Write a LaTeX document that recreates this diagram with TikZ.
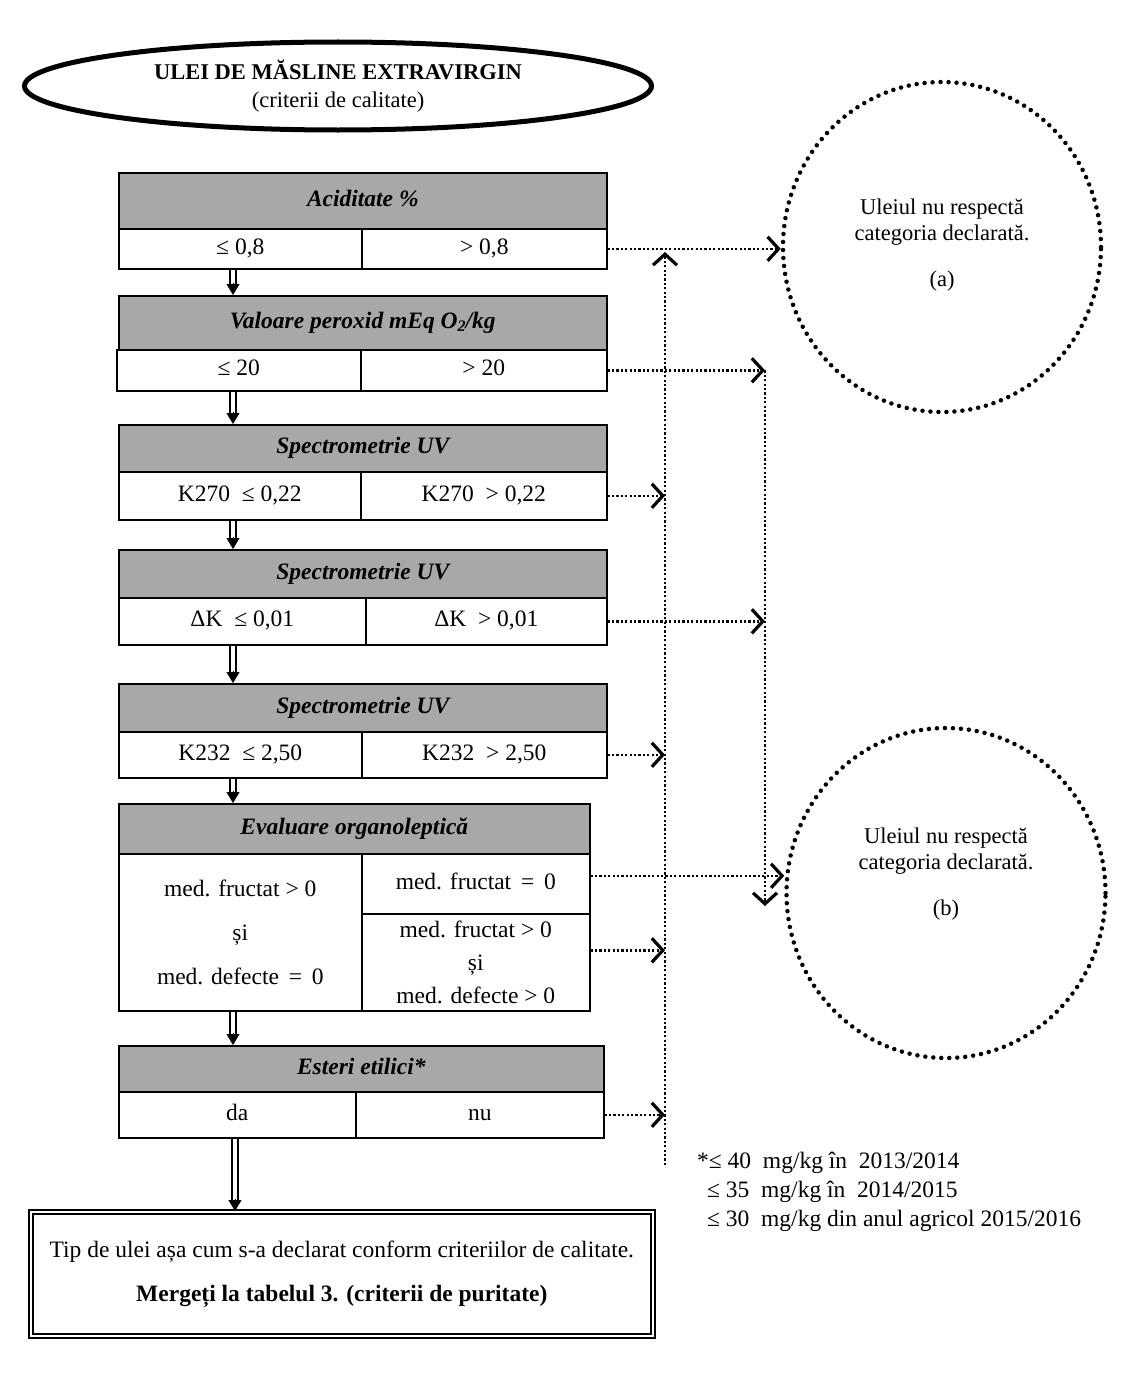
\documentclass[tikz,border=0pt]{standalone}
\usepackage{fontspec}
\setmainfont{Liberation Serif}
\usetikzlibrary{shapes.geometric,arrows.meta,calc}
\definecolor{hdrgray}{RGB}{168,168,168}
\newcommand\subtwo{\raisebox{-0.35ex}{\fontsize{16}{16}\selectfont 2}}
\begin{document}
\begin{tikzpicture}[x=1pt,y=-1pt,
  hdr/.style={draw, line width=1.6pt, fill=hdrgray, anchor=north west, inner sep=0pt,
    font=\fontsize{23.5}{26}\selectfont\bfseries\itshape, execute at begin node=\strut},
  cell/.style={draw, line width=1.6pt, anchor=north west, inner sep=0pt, align=center,
    font=\fontsize{23.5}{26}\selectfont},
  onecell/.style={cell, execute at begin node=\strut},
  dotarrow/.style={line width=2.4pt, dash pattern=on 2.2pt off 2.2pt,
    -{Straight Barb[length=11pt,width=24pt,line width=3.2pt]}},
  dotcircle/.style={ellipse, draw, line width=4.5pt, line cap=round, dash pattern=on 0pt off 8pt},
  ctext/.style={align=center, font=\fontsize{22.5}{26}\selectfont},
  dblline/.style={double, double distance=4pt, line width=2pt},
  dbltip/.style={line width=1pt, -{Triangle[length=11pt,width=13pt]}}
]
\useasboundingbox (0,0) rectangle (1124,1381);

% title ellipse
\node[ellipse, draw, line width=5pt, minimum width=627, minimum height=88, align=center,
  font=\fontsize{22.5}{28}\selectfont] (title) at (338,86)
  {\textbf{ULEI DE MĂSLINE EXTRAVIRGIN}\\(criterii de calitate)};

% circles
\node[dotcircle, minimum width=318, minimum height=330] (ca) at (942,247) {};
\node[ctext] (cat) at (942,245) {Uleiul nu respectă\\categoria declarată.\\[20pt](a)};
\node[dotcircle, minimum width=319, minimum height=330] (cb) at (946,893) {};
\node[ctext] (cbt) at (946,874) {Uleiul nu respectă\\categoria declarată.\\[20pt](b)};

% box 1
\node[hdr, minimum width=488, minimum height=56] (h1) at (118,172) {Aciditate \%};
\node[onecell, minimum width=243, minimum height=40] (l1) at (118,228) {≤ 0,8};
\node[onecell, minimum width=245, minimum height=40] (r1) at (361,228) {> 0,8};
% box 2
\node[hdr, minimum width=488, minimum height=54] (h2) at (118,295) {Valoare peroxid mEq O\subtwo/kg};
\node[onecell, minimum width=244, minimum height=41] (l2) at (116,349) {≤ 20};
\node[onecell, minimum width=246, minimum height=41] (r2) at (360,349) {> 20};
% box 3
\node[hdr, minimum width=488, minimum height=47] (h3) at (118,424) {Spectrometrie UV};
\node[onecell, minimum width=242, minimum height=48] (l3) at (118,471) {K270 \ ≤ 0,22};
\node[onecell, minimum width=246, minimum height=48] (r3) at (360,471) {K270 \ > 0,22};
% box 4
\node[hdr, minimum width=488, minimum height=48] (h4) at (118,549) {Spectrometrie UV};
\node[onecell, minimum width=247, minimum height=47] (l4) at (118,597) {ΔK \ ≤ 0,01};
\node[onecell, minimum width=241, minimum height=47] (r4) at (365,597) {ΔK \ > 0,01};
% box 5
\node[hdr, minimum width=488, minimum height=48] (h5) at (118,683) {Spectrometrie UV};
\node[onecell, minimum width=243, minimum height=46] (l5) at (118,731) {K232 \ ≤ 2,50};
\node[onecell, minimum width=245, minimum height=46] (r5) at (361,731) {K232 \ > 2,50};
% box 6
\node[hdr, minimum width=471, minimum height=50] (h6) at (118,803) {Evaluare organoleptică};
\node[cell, minimum width=243, minimum height=157, font=\fontsize{23.5}{44}\selectfont] (l6) at (118,853)
  {med. fructat > 0\\și\\med. defecte \,=\, 0};
\node[onecell, minimum width=228, minimum height=60] (r6a) at (361,853) {med. fructat \,=\, 0};
\node[cell, minimum width=228, minimum height=97, font=\fontsize{23.5}{33}\selectfont] (r6b) at (361,913)
  {med. fructat > 0\\și\\med. defecte > 0};
% box 7
\node[hdr, minimum width=485, minimum height=46] (h7) at (118,1045) {Esteri etilici*};
\node[onecell, minimum width=237, minimum height=46] (l7) at (118,1091) {da};
\node[onecell, minimum width=248, minimum height=46] (r7) at (355,1091) {nu};

% final box
\node[draw, double, double distance=2.5pt, line width=1.6pt, anchor=north west, inner sep=0pt,
  minimum width=622, minimum height=124, align=center, font=\fontsize{23.5}{44}\selectfont] (fin) at (30,1211)
  {Tip de ulei așa cum s-a declarat conform criteriilor de calitate.\\\textbf{Mergeți la tabelul 3. (criterii de puritate)}};

% footnote
\node[anchor=north west, inner sep=0pt, align=left, font=\fontsize{23.5}{29}\selectfont] (note) at (697,1152)
  {*≤ 40 \ mg/kg în \ 2013/2014\\
   \hspace*{10pt}≤ 35 \ mg/kg în \ 2014/2015\\
   \hspace*{10pt}≤ 30 \ mg/kg din anul agricol 2015/2016};

% double arrows
\coordinate (ax) at (233,0);
\coordinate (bx) at (235,0);
\foreach \a/\b in {l1/h2,l2/h3,l3/h4,l4/h5,l5/h6,l6/h7}{
  \draw[dblline] (\a.south -| ax) -- ($(\b.north -| ax)+(0,-9)$);
  \draw[dbltip] ($(\b.north -| ax)+(0,-12)$) -- (\b.north -| ax);
}
\draw[dblline] (l7.south -| bx) -- ($(fin.north -| bx)+(0,-9)$);
\draw[dbltip] ($(fin.north -| bx)+(0,-12)$) -- (fin.north -| bx);

% dotted connectors
\coordinate (v1top) at (665,252);
\coordinate (v1bot) at (665,1165);
\coordinate (v2x) at (765,0);
\coordinate (v2bot) at (765,906);
\draw[dotarrow] (v1bot) -- (v1top);
\draw[dotarrow] (r2.east -| v2x) -- (v2bot);
\draw[dotarrow] (r1.east) -- (r1.east -| ca.west);
\draw[dotarrow] (r2.east) -- (r2.east -| v2x);
\draw[dotarrow] (r3.east) -- (r3.east -| v1top);
\draw[dotarrow] (r4.east) -- (r4.east -| v2x);
\draw[dotarrow] (r5.east) -- (r5.east -| v1top);
\draw[dotarrow] ([yshift=8pt]r6a.east) -- ([yshift=8pt]r6a.east -| cb.west);
\draw[dotarrow] ([yshift=12pt]r6b.east) -- ([yshift=12pt]r6b.east -| v1top);
\draw[dotarrow] (r7.east) -- (r7.east -| v1top);
\end{tikzpicture}
\end{document}
